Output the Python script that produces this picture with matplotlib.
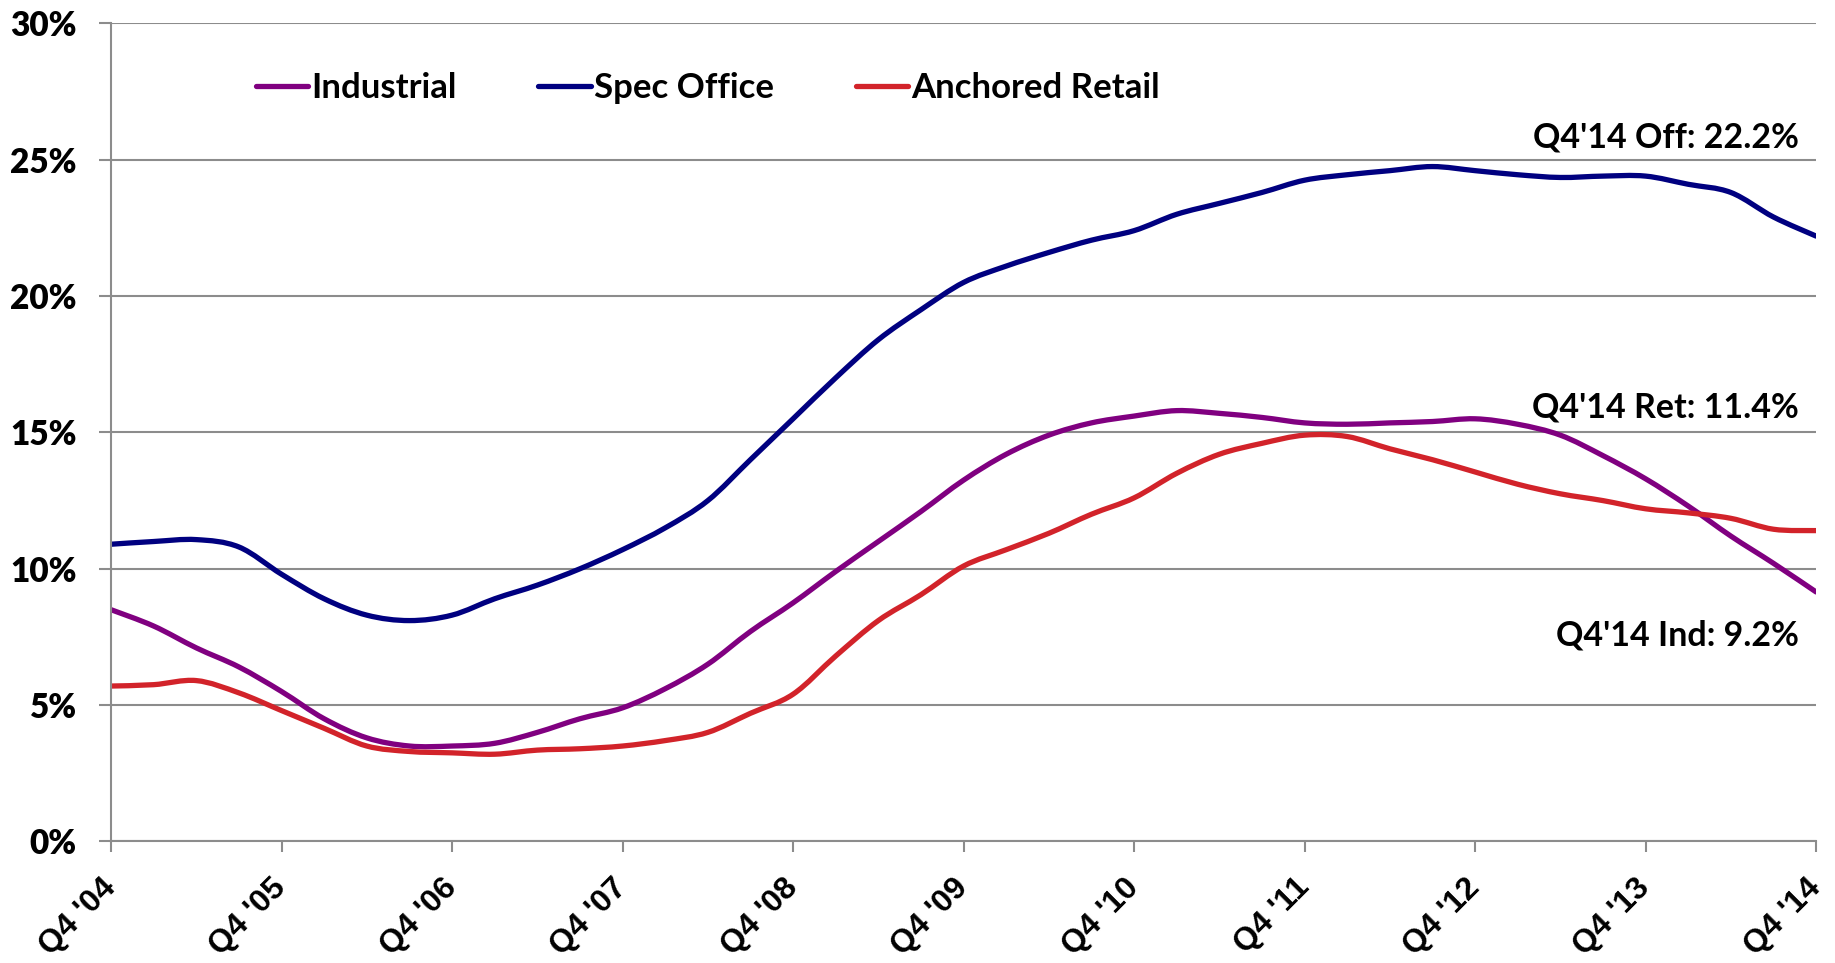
import numpy as np
import matplotlib.pyplot as plt
from matplotlib.path import Path
from matplotlib.patches import PathPatch
from matplotlib.lines import Line2D

# quarters Q4'04 .. Q4'14
quarters = np.arange(41)
tick_labels = ["Q4 '04", "Q4 '05", "Q4 '06", "Q4 '07", "Q4 '08", "Q4 '09",
               "Q4 '10", "Q4 '11", "Q4 '12", "Q4 '13", "Q4 '14"]

industrial = [8.5, 7.9, 7.1, 6.4, 5.5, 4.5, 3.8, 3.5, 3.5, 3.6,
              4.0, 4.5, 4.9, 5.6, 6.5, 7.7, 8.75, 9.9, 11.0, 12.1,
              13.25, 14.2, 14.9, 15.35, 15.6, 15.8, 15.7, 15.55, 15.35, 15.3,
              15.35, 15.4, 15.5, 15.3, 14.9, 14.15, 13.3, 12.3, 11.2, 10.2,
              9.15]
spec_office = [10.9, 11.0, 11.07, 10.8, 9.8, 8.9, 8.3, 8.1, 8.3, 8.9,
               9.4, 10.0, 10.7, 11.5, 12.5, 14.0, 15.5, 17.0, 18.4, 19.5,
               20.5, 21.1, 21.6, 22.05, 22.4, 23.0, 23.4, 23.8, 24.25, 24.45,
               24.6, 24.75, 24.6, 24.45, 24.35, 24.4, 24.4, 24.1, 23.8, 22.9,
               22.2]
anchored_retail = [5.7, 5.75, 5.9, 5.45, 4.8, 4.15, 3.5, 3.3, 3.25, 3.2,
                   3.35, 3.4, 3.5, 3.7, 4.0, 4.7, 5.4, 6.8, 8.1, 9.05,
                   10.1, 10.7, 11.3, 12.0, 12.6, 13.5, 14.2, 14.6, 14.9, 14.85,
                   14.4, 14.0, 13.55, 13.1, 12.75, 12.5, 12.2, 12.05, 11.85, 11.45,
                   11.4]

notes = ["Q4'14 Off: 22.2%", "Q4'14 Ret: 11.4%", "Q4'14 Ind: 9.2%"]
note_y = [25.8, 15.9, 7.55]


def smooth_path(x, y):
    # excel-style smoothed line: cubic bezier through every data point
    p = np.column_stack([x, y]).astype(float)
    n = len(p)
    verts = [p[0]]
    codes = [Path.MOVETO]
    for i in range(n - 1):
        prev = p[i - 1] if i > 0 else p[i]
        nxt = p[i + 2] if i + 2 < n else p[i + 1]
        c1 = p[i] + (p[i + 1] - prev) / 6
        c2 = p[i + 1] - (nxt - p[i]) / 6
        verts += [c1, c2, p[i + 1]]
        codes += [Path.CURVE4] * 3
    return Path(verts, codes)


fig = plt.figure(figsize=(18.35, 9.63), dpi=100)
ax = fig.add_axes([0.0605, 0.1262, 0.9292, 0.8495])

grid_c = '#8c8c8c'
series = [('Industrial', industrial, '#800080'),
          ('Spec Office', spec_office, '#000080'),
          ('Anchored Retail', anchored_retail, '#d2232a')]
handles = []
for name, vals, col in series:
    ax.add_patch(PathPatch(smooth_path(quarters, vals), fill=False, edgecolor=col,
                           lw=3.8, capstyle='round', joinstyle='round'))
    handles.append(Line2D([], [], color=col, lw=3.8, solid_capstyle='round',
                          label=name))

ax.set_xlim(0, 40)
ax.set_ylim(0, 30)
ax.set_yticks(np.arange(0, 31, 5))
ax.set_yticklabels([f'{v}%' for v in range(0, 31, 5)],
                   fontfamily='Lato', fontweight='heavy', fontsize=24)
ax.yaxis.grid(True, color=grid_c, lw=1.5)
ax.set_axisbelow(True)

ax.set_xticks(np.arange(0, 41, 4))
ax.set_xticklabels(tick_labels, rotation=45, ha='right', va='center',
                   rotation_mode='anchor',
                   fontfamily='Liberation Sans', fontweight='bold', fontsize=23)

for s in ['top', 'right']:
    ax.spines[s].set_visible(False)
for s in ['left', 'bottom']:
    ax.spines[s].set_color(grid_c)
    ax.spines[s].set_linewidth(1.5)
ax.tick_params(axis='x', length=8, width=1.5, color=grid_c, pad=22)
ax.tick_params(axis='y', length=8.5, width=1.5, color=grid_c, pad=16)

for t, y in zip(notes, note_y):
    ax.text(39.6, y, t, ha='right', va='center', fontfamily='Lato',
            fontweight='bold', fontsize=24.5)

ax.legend(handles=handles, loc='center left', bbox_to_anchor=(0.085, 0.921),
          ncol=3, frameon=False,
          prop={'family': 'Lato', 'weight': 'bold', 'size': 25},
          handlelength=1.5, handletextpad=0.1, columnspacing=2.35, borderpad=0,
          borderaxespad=0)

fig.savefig('out.png', dpi=100)
